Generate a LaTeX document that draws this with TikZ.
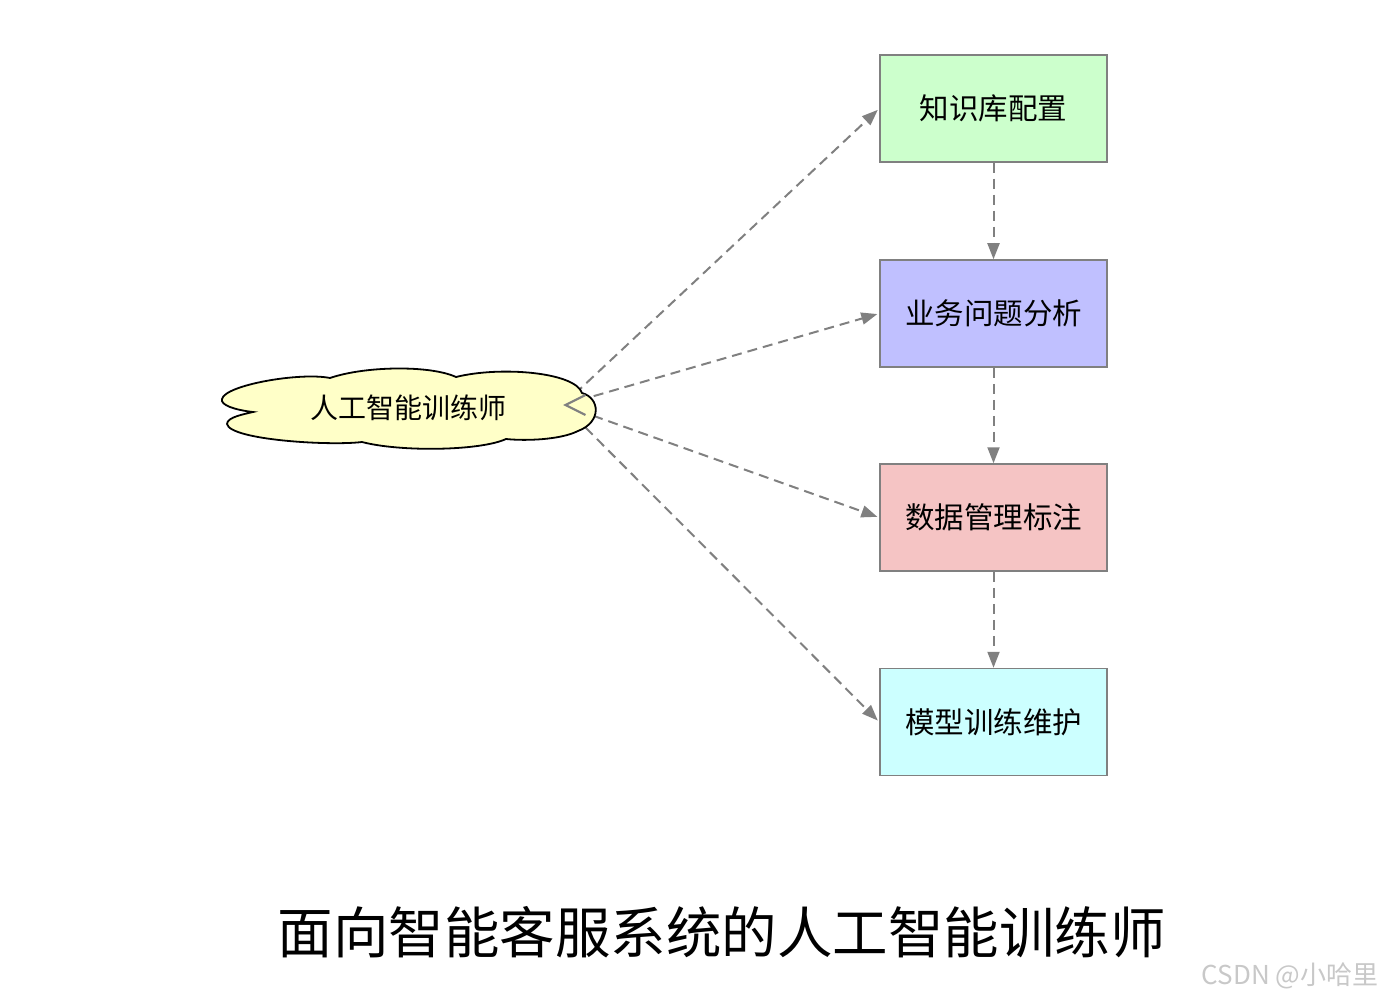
\documentclass[tikz,border=0pt]{standalone}
\usepackage{fontspec}
\setmainfont{Noto Sans CJK SC}
\usetikzlibrary{arrows.meta,backgrounds}
\begin{document}
\begin{tikzpicture}[x=1pt,y=-1pt,
  taskbox/.style={draw=custcol_80_80_80, line width=1.5pt, minimum width=227pt, minimum height=107pt, inner sep=0, font=\fontsize{29.5pt}{29.5pt}\selectfont},
  flow/.style={draw=custcol_80_80_80, line width=2pt, dash pattern=on 10pt off 6pt, -{Triangle[length=16pt,width=12pt]}}]
\useasboundingbox (0,0) rectangle (1386,1000);
\definecolor{custcol_80_80_80}{RGB}{128, 128, 128}
\definecolor{custcol_cc_ff_cc}{RGB}{204, 255, 204}
\definecolor{custcol_c0_c0_ff}{RGB}{192, 192, 255}
\definecolor{custcol_f5_c4_c4}{RGB}{245, 196, 196}
\definecolor{custcol_cc_ff_ff}{RGB}{204, 255, 255}
\definecolor{custcol_ff_ff_c8}{RGB}{255, 255, 200}
\definecolor{custcol_c8_c8_c8}{RGB}{200, 200, 200}
\node[taskbox, fill=custcol_cc_ff_cc] (kb) at (993.5,108.5) {知识库配置};
\node[taskbox, fill=custcol_c0_c0_ff] (biz) at (993.5,313.5) {业务问题分析};
\node[taskbox, fill=custcol_f5_c4_c4] (data) at (993.5,517.5) {数据管理标注};
\node[taskbox, fill=custcol_cc_ff_ff] (model) at (993.5,722.0) {模型训练维护};
% cloud outline
\draw[line width=1.8pt, fill=custcol_ff_ff_c8] (330,378)
  .. controls (365,366) and (430,365) .. (456,377)
  .. controls (500,366) and (575,372) .. (582,393)
  .. controls (600,398) and (602,422) .. (578,431)
  .. controls (560,440) and (525,441) .. (506,439)
  .. controls (480,451) and (400,452) .. (362,442)
  .. controls (330,446) and (230,440) .. (227,424)
  .. controls (227,417) and (245,414) .. (253,412)
  .. controls (235,410) and (220,405) .. (222,399)
  .. controls (225,385) and (300,372) .. (330,378) -- cycle;
\node[inner sep=0, font=\fontsize{28pt}{28pt}\selectfont] (trainer) at (408,408) {人工智能训练师};
\coordinate (hub) at (563,405);
\begin{scope}[on background layer]
\foreach \t in {kb,biz,data,model}
  \draw[flow, shorten >=2pt] (hub) -- (\t.west);
\end{scope}
\draw[custcol_80_80_80, line width=2.2pt, -{Straight Barb[length=20pt,width=20pt]}] ([xshift=2pt]hub) -- (hub);
\draw[flow] (kb) -- (biz);
\draw[flow] (biz) -- (data);
\draw[flow] (data) -- (model);
\node[font=\fontsize{55.5pt}{55.5pt}\selectfont] (title) at (721.5,932) {面向智能客服系统的人工智能训练师};
\node[anchor=east, text=custcol_c8_c8_c8, font=\fontsize{26pt}{26pt}\selectfont] (mark) at (1382,976) {CSDN @小哈里};
\end{tikzpicture}
\end{document}
